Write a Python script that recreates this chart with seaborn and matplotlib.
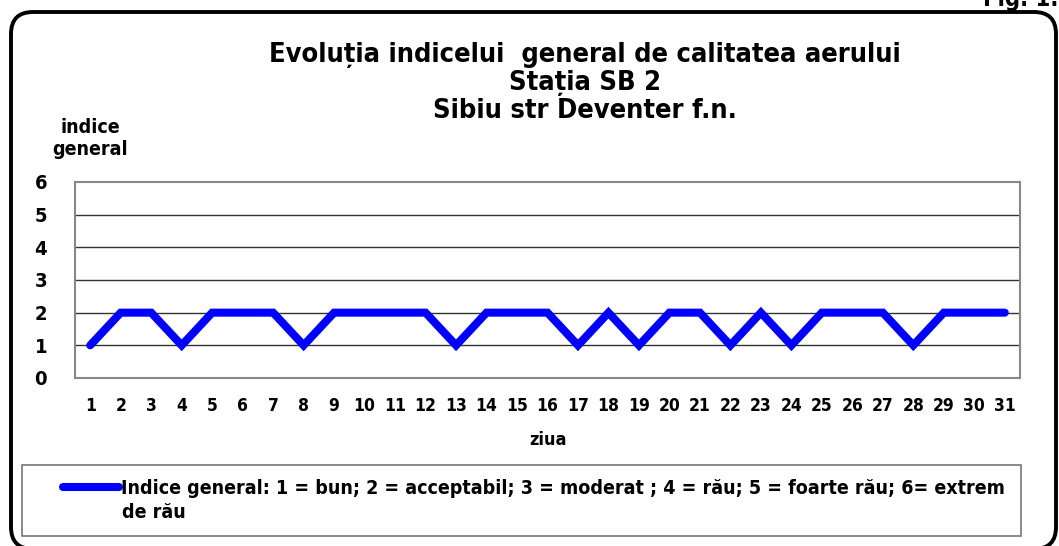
import matplotlib
matplotlib.use("Agg")
import matplotlib.pyplot as plt
from matplotlib.patches import FancyBboxPatch, Rectangle
import seaborn as sns
import pandas as pd

# date
zile = list(range(1, 32))
indice = [1, 2, 2, 1, 2, 2, 2, 1, 2, 2, 2, 2, 1, 2, 2, 2,
          1, 2, 1, 2, 2, 1, 2, 1, 2, 2, 2, 1, 2, 2, 2]
y_ticks = [0, 1, 2, 3, 4, 5, 6]
titlu = "Evoluția indicelui  general de calitatea aerului\nStația SB 2\nSibiu str Deventer f.n."
legenda_rand1 = ("Indice general: 1 = bun; 2 = acceptabil; 3 = moderat ; 4 = rău; "
                 "5 = foarte rău; 6= extrem")
legenda_rand2 = "de rău"

df = pd.DataFrame({"ziua": zile, "indice": indice})

sns.set_style("white")
plt.rcParams['font.family'] = ['DejaVu Sans']
plt.rcParams['font.stretch'] = 'condensed'
plt.rcParams['font.weight'] = 'bold'
plt.rcParams['text.color'] = 'black'
plt.rcParams['xtick.color'] = 'black'
plt.rcParams['ytick.color'] = 'black'

fig = plt.figure(figsize=(10.59, 5.46), dpi=100)
ax = fig.add_axes([0.0708, 0.3077, 0.8924, 0.359])

sns.lineplot(data=df, x="ziua", y="indice", ax=ax, color="#0000ff",
             linewidth=5.8, solid_capstyle="round", solid_joinstyle="miter",
             label=legenda_rand1, legend=False, zorder=3)

ax.set_xlim(0.5, 31.5)
ax.set_ylim(0, 6)
ax.set_yticks(y_ticks)
ax.set_xticks(zile)
ax.set_yticklabels([str(v) for v in y_ticks], fontsize=14.5, fontweight='bold')
ax.set_xticklabels([str(z) for z in zile], fontsize=12.5, fontweight='bold')
ax.tick_params(axis='y', length=0, pad=20)
ax.tick_params(axis='x', length=0, pad=14)
ax.set_xlabel("")
ax.set_ylabel("")
for v in y_ticks[1:-1]:
    ax.axhline(v, color="#333333", linewidth=1.0, zorder=1)
for s in ax.spines.values():
    s.set_color("#888888")
    s.set_linewidth(1.5)

fig.text(0.552, 0.848, titlu, ha='center', va='center', fontsize=19.5,
         fontweight='bold', linespacing=1.1)
fig.text(0.085, 0.747, "indice\ngeneral", ha='center', va='center',
         fontsize=14, fontweight='bold', linespacing=1.2)
fig.text(0.517, 0.194, "ziua", ha='center', va='center', fontsize=13,
         fontweight='bold')
fig.text(0.928, 0.989, "Fig. 1.", ha='left', va='baseline', fontsize=17,
         fontweight='bold')

# cadrul legendei
fig.patches.append(Rectangle((22 / 1059, 10 / 546), 999 / 1059, 71 / 546,
                             transform=fig.transFigure, fill=False,
                             edgecolor="#777777", linewidth=1.2))
leg = fig.legend(handles=ax.get_lines()[:1], labels=[legenda_rand1],
                 loc='upper left', bbox_to_anchor=(63 / 1059, 1 - 479 / 546),
                 frameon=False, fontsize=14, handlelength=2.9,
                 handletextpad=0.08, borderpad=0, borderaxespad=0)
for t in leg.get_texts():
    t.set_fontweight('bold')
leg.get_lines()[0].set_linewidth(5.8)
fig.text(122 / 1059, 1 - 513 / 546, legenda_rand2, ha='left', va='center',
         fontsize=14, fontweight='bold')

# chenar rotunjit in jurul graficului
chenar = FancyBboxPatch((0.11, -0.03), 10.45, 5.37,
                        boxstyle="round,pad=0,rounding_size=0.22",
                        transform=fig.dpi_scale_trans, fill=False,
                        edgecolor="black", linewidth=2.8, clip_on=False)
fig.patches.append(chenar)

fig.savefig("out.png", dpi=100)
